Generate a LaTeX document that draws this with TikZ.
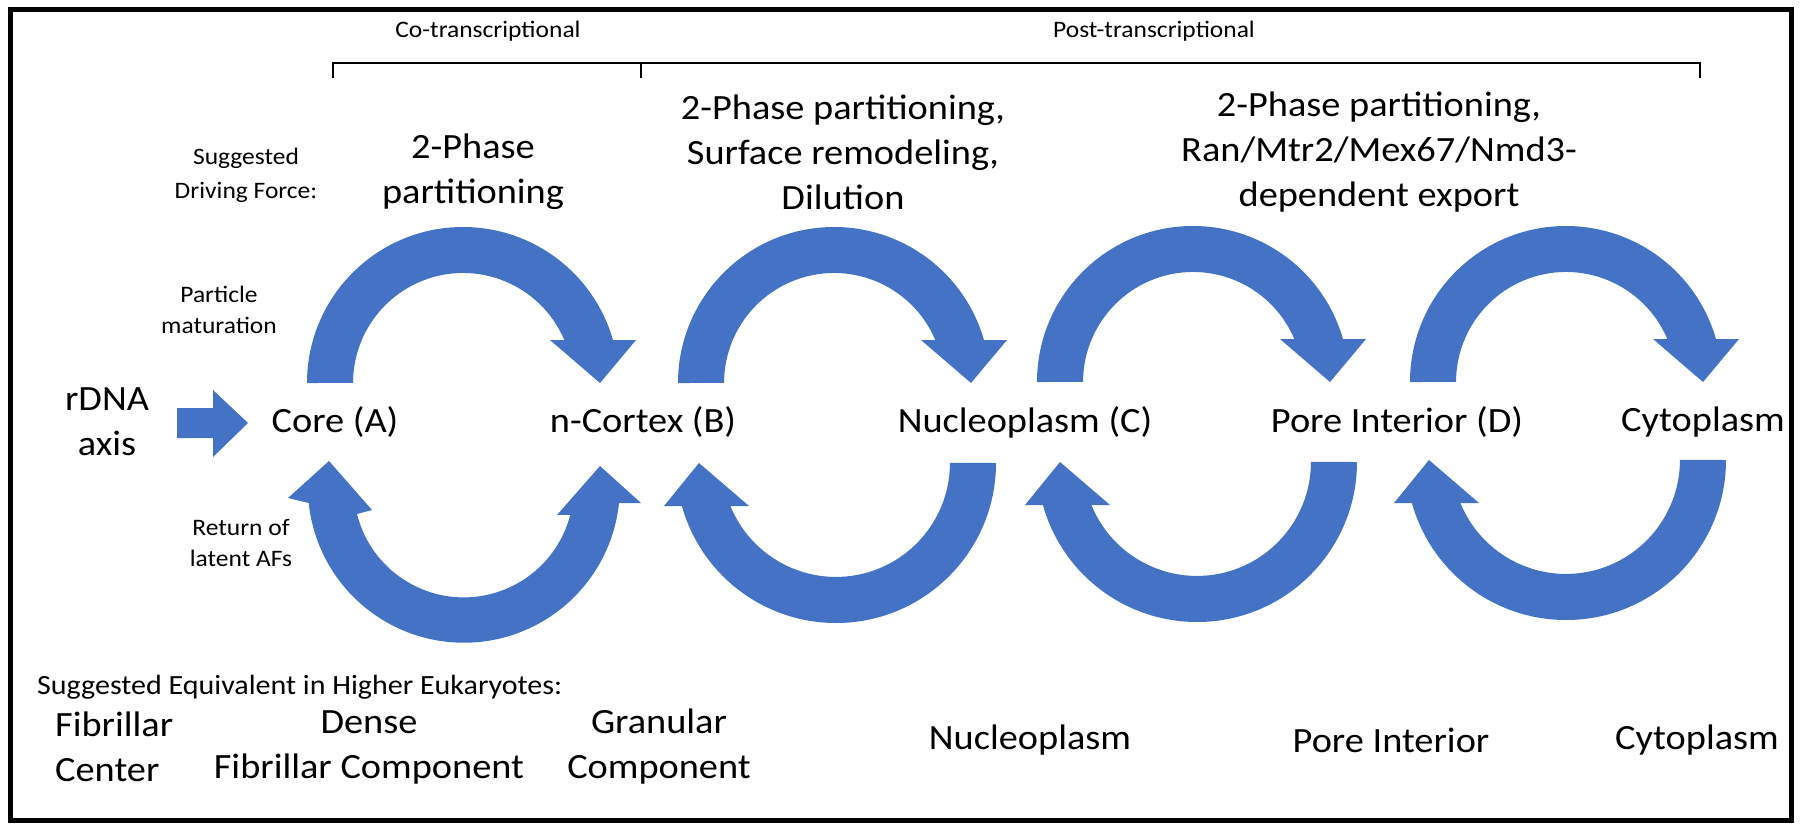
\documentclass[tikz,border=0pt]{standalone}
\usepackage{fontspec}
\setmainfont{Carlito}[FakeStretch=1.08]
\definecolor{arcblue}{HTML}{4472C4}
\newcommand{\UpArc}[2]{%
  \fill[arcblue] ({#1-156},{#2}) arc[start angle=180,end angle=16,radius=156pt]
    -- ({#1+173},{#2-43}) -- ({#1+137},{#2}) -- ({#1+87},{#2-43})
    -- ({#1+101.3},{#2-43}) arc[start angle=23,end angle=180,radius=110pt] -- cycle;}
\newcommand{\LowArc}[2]{%
  \fill[arcblue] ({#1+160},{#2}) arc[start angle=0,end angle=-164.4,radius=160pt]
    -- ({#1-172},{#2+43}) -- ({#1-137},{#2}) -- ({#1-87},{#2+43})
    -- ({#1-105.6},{#2+43}) arc[start angle=-157.8,end angle=0,radius=114pt] -- cycle;}
\begin{document}
\begin{tikzpicture}[x=1pt,y=-1pt,
  big/.style={font=\fontsize{35.5}{45}\selectfont, align=center, inner sep=0pt},
  small/.style={font=\fontsize{23.6}{31}\selectfont, align=center, inner sep=0pt},
  med/.style={font=\fontsize{27.8}{34}\selectfont, inner sep=0pt},
  bracket/.style={line width=2.5pt}]
\useasboundingbox[fill=white] (0,0) rectangle (1800,830);
\draw[line width=5pt] (10,9) rectangle (1791,820);

% bracket
\coordinate (b1) at (333,63);
\coordinate (b2) at (641,63);
\coordinate (b3) at (1700,63);
\draw[bracket] ([yshift=-15pt]b1) -- (b1) -- (b3) -- ([yshift=-15pt]b3);
\draw[bracket] (b2) -- ([yshift=-15pt]b2);
\node[small] (co) at (488,31) {Co-transcriptional};
\node[small] (post) at (1154,31) {Post-transcriptional};

% driving forces
\node[small,font=\fontsize{23.6}{34}\selectfont] (sdf) at (246,175) {Suggested\\Driving Force:};
\node[big] (f1) at (473,172) {2-Phase\\partitioning};
\node[big] (f2) at (843,152) {2-Phase partitioning,\\Surface remodeling,\\Dilution};
\node[big] (f3) at (1379,152) {2-Phase partitioning,\\Ran/Mtr2/Mex67/Nmd3-\\dependent export};
\node[small] (pm) at (219,310) {Particle\\maturation};
\node[small] (ret) at (241,543) {Return of\\latent AFs};

% arcs
\UpArc{463}{383}
\UpArc{834}{383}
\UpArc{1193}{382}
\UpArc{1566}{382}
\LowArc{836}{463}
\LowArc{1197}{462}
\LowArc{1566}{460}
% double-headed lower arc
\fill[arcblue] (619,503) arc[start angle=-6,end angle=-174,radius=156pt]
  -- (288,498) -- (329,461) -- (372,510) -- (357,514)
  arc[start angle=-166,end angle=-14.5,radius=110pt]
  -- (557,515) -- (600,466) -- (641,503) -- cycle;

% rDNA arrow
\node[big] (rdna) at (107,422) {rDNA\\axis};
\fill[arcblue] (177,408) -- (213,408) -- (213,390) -- (248,423) -- (213,457) -- (213,438) -- (177,438) -- cycle;

% compartments
\node[big] (A) at (335,422) {Core (A)};
\node[big] (B) at (643,422) {n-Cortex (B)};
\node[big] (C) at (1025,422) {Nucleoplasm (C)};
\node[big] (D) at (1397,422) {Pore Interior (D)};
\node[big] (E) at (1703,422) {Cytoplasm};

% equivalents
\node[med,anchor=west] (seq) at (37,687) {Suggested Equivalent in Higher Eukaryotes:};
\node[big,align=left,anchor=west] (fc) at (55,747) {Fibrillar\\Center};
\node[big] (dfc) at (369,747) {Dense\\Fibrillar Component};
\node[big] (gc) at (659,747) {Granular\\Component};
\node[big] (np) at (1030,740) {Nucleoplasm};
\node[big] (pi) at (1391,740) {Pore Interior};
\node[big] (cy) at (1697,740) {Cytoplasm};
\end{tikzpicture}
\end{document}
